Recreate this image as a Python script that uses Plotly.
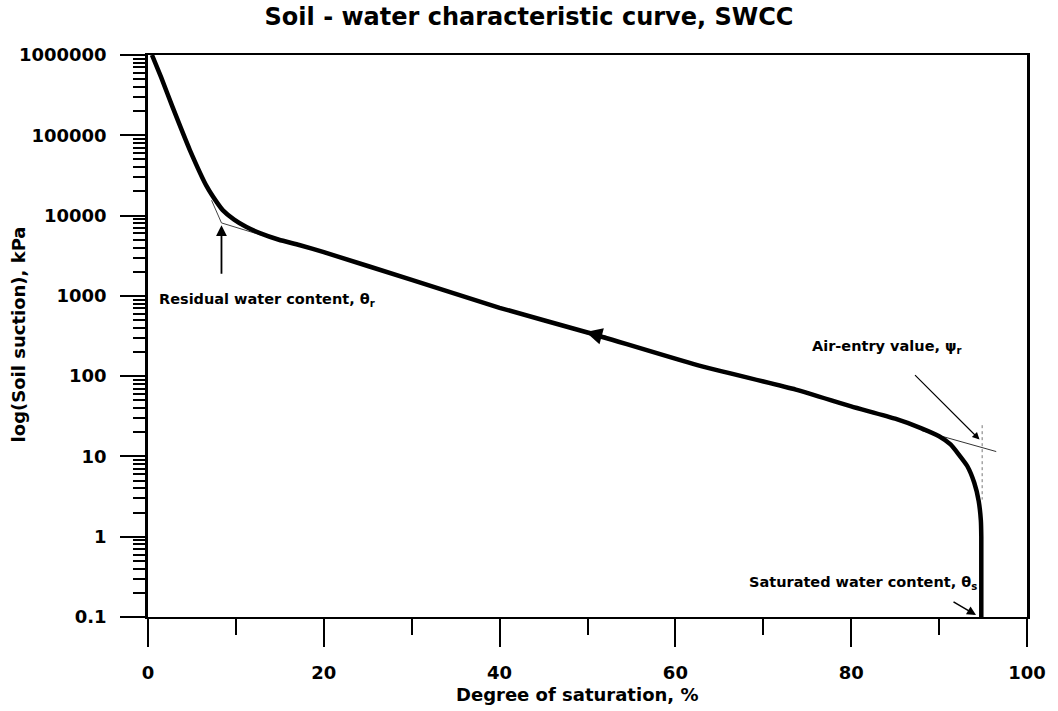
import math
import plotly.graph_objects as go

# ---- data ----
saturation = [0.45, 1.5, 2.8, 4.75, 6.7, 7.8, 8.5, 9.8, 11.2, 12.8, 14.9, 17.2, 20, 30, 40, 50,
              62.4, 73.7, 80, 85, 88, 90, 91.3, 92.2, 93.2, 94.0, 94.5, 94.75, 94.8, 94.8]
suction = [1000000, 525000, 224000, 66000, 22900, 14800, 11700, 8900, 7200, 6000, 5000, 4300,
           3500, 1580, 710, 350, 138, 68, 42, 29.5, 22.4, 17.8, 14.1, 10.7, 7.6, 4.7, 2.8,
           1.6, 1.0, 0.1]

# construction (tangent) lines
resid_tan_x = [7.23, 8.36, 12.8]
resid_tan_y = [15500, 8100, 5750]
air_tan_x = [88.0, 96.5]
air_tan_y = [21, 11.5]
air_vert_x = [94.9, 94.9]
air_vert_y = [24.5, 2.9]

# annotation points
resid_pt = (8.36, 7600)
air_pt = (94.6, 16.2)
sat_pt = (94.2, 0.106)
flow_pt = (49.8, 355)

y_major = [0.1, 1, 10, 100, 1000, 10000, 100000, 1000000]
y_major_text = ["0.1", "1", "10", "100", "1000", "10000", "100000", "1000000"]
x_major = [0, 20, 40, 60, 80, 100]
x_minor = [10, 30, 50, 70, 90]

FONT = "DejaVu Sans"

y_minor = [m * 10 ** k for k in range(-1, 6) for m in range(2, 10)]

fig = go.Figure()
fig.add_trace(go.Scatter(x=resid_tan_x, y=resid_tan_y, mode="lines",
                         line=dict(color="#444", width=1), hoverinfo="skip"))
fig.add_trace(go.Scatter(x=air_tan_x, y=air_tan_y, mode="lines",
                         line=dict(color="#333", width=1), hoverinfo="skip"))
fig.add_trace(go.Scatter(x=air_vert_x, y=air_vert_y, mode="lines",
                         line=dict(color="#777", width=1, dash="dot"), hoverinfo="skip"))
fig.add_trace(go.Scatter(x=saturation, y=suction, mode="lines",
                         line=dict(color="black", width=4.5, shape="spline", smoothing=0.5),
                         hoverinfo="skip"))

L = math.log10
ann_font = dict(family=FONT, size=14.5, color="black", weight="bold")
annotations = [
    # flow-direction arrow on the curve
    dict(x=flow_pt[0], y=L(flow_pt[1]), xref="x", yref="y", text="", showarrow=True,
         ax=22, ay=6, arrowhead=2, arrowsize=1.1, arrowwidth=3, arrowcolor="black"),
    # residual
    dict(x=resid_pt[0], y=L(resid_pt[1]), xref="x", yref="y", text="", showarrow=True,
         ax=0, ay=50, arrowhead=2, arrowsize=1.2, arrowwidth=1.8, arrowcolor="black"),
    dict(x=1.0, y=2.95, xref="x", yref="y", xanchor="left", yanchor="middle",
         text="Residual water content, θ<sub>r</sub>", showarrow=False, font=ann_font),
    # air entry
    dict(x=air_pt[0], y=L(air_pt[1]), xref="x", yref="y", text="", showarrow=True,
         ax=-66, ay=-66, arrowhead=2, arrowsize=1.2, arrowwidth=1.2, arrowcolor="black"),
    dict(x=84.1, y=2.36, xref="x", yref="y", xanchor="center", yanchor="middle",
         text="Air-entry value, ψ<sub>r</sub>", showarrow=False, font=ann_font),
    # saturated
    dict(x=sat_pt[0], y=L(sat_pt[1]), xref="x", yref="y", text="", showarrow=True,
         ax=-24, ay=-14, arrowhead=2, arrowsize=1.2, arrowwidth=1.5, arrowcolor="black"),
    dict(x=94.5, y=-0.575, xref="x", yref="y", xanchor="right", yanchor="middle",
         text="Saturated water content, θ<sub>s</sub>", showarrow=False, font=ann_font),
    # axis titles
    dict(x=(580 - 148) / 885, y=(617 - 695) / 562, xref="paper", yref="paper",
         xanchor="center", yanchor="middle", showarrow=False,
         text="Degree of saturation, %", font=dict(family=FONT, size=18, color="black", weight="bold")),
    dict(x=(17.5 - 148) / 885, y=(617 - 334) / 562, xref="paper", yref="paper",
         xanchor="center", yanchor="middle", showarrow=False, textangle=-90,
         text="log(Soil suction), kPa", font=dict(family=FONT, size=18, color="black", weight="bold")),
]

fig.update_layout(
    width=1058, height=711,
    margin=dict(l=148, r=25, t=55, b=94),
    paper_bgcolor="white", plot_bgcolor="white",
    showlegend=False,
    font=dict(family=FONT, size=18, color="black", weight="bold"),
    title=dict(text="Soil - water characteristic curve, SWCC", x=0.5, xref="container",
               xanchor="center", y=1 - 17 / 711, yref="container", yanchor="middle",
               font=dict(family=FONT, size=24, color="black", weight="bold")),
    annotations=annotations,
)

fig.update_xaxes(
    range=[0, 100], showgrid=False, zeroline=False,
    showline=True, linecolor="black", linewidth=2, mirror=True,
    tickmode="array", tickvals=x_major, ticktext=[str(v) for v in x_major],
    ticks="outside", ticklen=28, tickwidth=1.8, tickcolor="black",
    ticklabelstandoff=10,
    tickfont=dict(family=FONT, size=18, color="black", weight="bold"),
    minor=dict(tickmode="array", tickvals=x_minor, ticks="outside", ticklen=16,
               tickwidth=1.8, tickcolor="black", showgrid=False),
)
fig.update_yaxes(
    type="log", range=[-1, 6], showgrid=False, zeroline=False,
    showline=True, linecolor="black", linewidth=2.5, mirror=True,
    tickmode="array", tickvals=y_major, ticktext=y_major_text,
    ticks="outside", ticklen=25, tickwidth=1.8, tickcolor="black",
    ticklabelstandoff=10,
    tickfont=dict(family=FONT, size=18, color="black", weight="bold"),
    minor=dict(tickmode="array", tickvals=y_minor, ticks="outside", ticklen=12,
               tickwidth=1.5, tickcolor="black", showgrid=False),
)

fig.write_html("out.html")
